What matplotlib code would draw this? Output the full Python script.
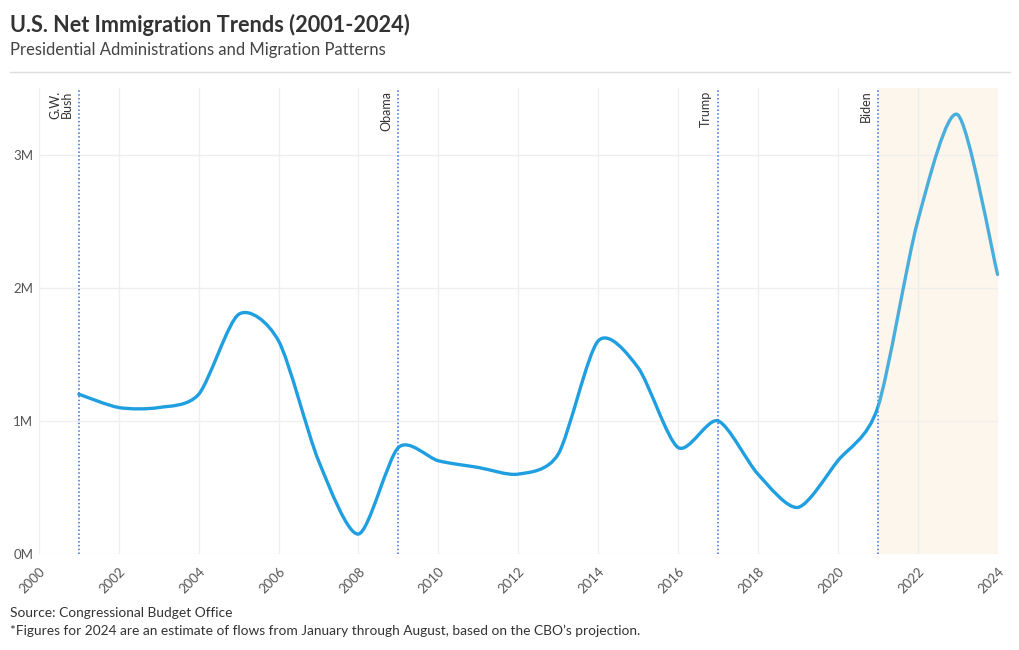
import numpy as np
import matplotlib
matplotlib.use("Agg")
import matplotlib.pyplot as plt
from matplotlib.path import Path
from matplotlib.patches import PathPatch

plt.rcParams['font.family'] = ['Lato', 'DejaVu Sans']

# data (millions)
years = [2001, 2002, 2003, 2004, 2005, 2006, 2007, 2008, 2009, 2010, 2011, 2012,
         2013, 2014, 2015, 2016, 2017, 2018, 2019, 2020, 2021, 2022, 2023, 2024]
net_migration = [1.2, 1.1, 1.1, 1.2, 1.8, 1.6, 0.7, 0.15, 0.8, 0.7, 0.65, 0.6,
                 0.75, 1.6, 1.4, 0.8, 1.0, 0.6, 0.35, 0.7, 1.1, 2.5, 3.3, 2.1]
presidents = ['G.W.\nBush', 'Obama', 'Trump', 'Biden']
term_start = [2001, 2009, 2017, 2021]
estimate_start = 2021


def spline_path(xs, ys, tension=0.4):
    # catmull-rom style smooth path through the points (cubic bezier segments)
    xs = np.asarray(xs, float)
    ys = np.asarray(ys, float) * 1e6
    verts = [(xs[0], ys[0])]
    codes = [Path.MOVETO]
    n = len(xs)
    for i in range(n - 1):
        p0 = (xs[max(i - 1, 0)], ys[max(i - 1, 0)])
        p1 = (xs[i], ys[i])
        p2 = (xs[i + 1], ys[i + 1])
        p3 = (xs[min(i + 2, n - 1)], ys[min(i + 2, n - 1)])
        c1 = (p1[0] + (p2[0] - p0[0]) * tension / 3, p1[1] + (p2[1] - p0[1]) * tension / 3)
        c2 = (p2[0] - (p3[0] - p1[0]) * tension / 3, p2[1] - (p3[1] - p1[1]) * tension / 3)
        verts += [c1, c2, p2]
        codes += [Path.CURVE4] * 3
    return Path(verts, codes)


fig = plt.figure(figsize=(10.2, 6.5), dpi=100)
ax = fig.add_axes([0.0382, 0.1477, 0.9398, 0.7169])

ax.axvspan(estimate_start, 2024, color='#fdf6ec', zorder=0, lw=0)

path = spline_path(years, net_migration)
solid = PathPatch(path, fill=False, edgecolor='#1f9fe0', lw=2.4, zorder=3, capstyle='round')
ax.add_patch(solid)
solid.set_clip_path(plt.Rectangle((1990, -1e7), estimate_start - 1990, 1e8,
                                  transform=ax.transData))
est = PathPatch(path, fill=False, edgecolor='#4aaedc', lw=2.4, zorder=3, capstyle='round')
ax.add_patch(est)
est.set_clip_path(plt.Rectangle((estimate_start, -1e7), 20, 1e8, transform=ax.transData))

for name, yr in zip(presidents, term_start):
    ax.axvline(yr, color='#3a6fd8', lw=1.1, ls=(0, (1, 1.5)), zorder=2)
    ax.text(yr - 0.15, 3.48e6, name, rotation=90, ha='right', va='top',
            fontsize=9, color='#333333', linespacing=1.0, multialignment='right')

ax.set_xlim(2000, 2024)
ax.set_ylim(0, 3.5e6)
ax.set_xticks(range(2000, 2025, 2))
ax.set_yticks([0, 1e6, 2e6, 3e6])
ax.set_yticklabels(['0M', '1M', '2M', '3M'])
plt.setp(ax.get_xticklabels(), rotation=45, ha='right', rotation_mode='anchor')
ax.tick_params(length=0, labelsize=9.5, labelcolor='#555555', pad=4)
ax.tick_params(axis='x', pad=8)
ax.grid(True, color='#eeeeee', lw=0.9, zorder=0)
ax.set_axisbelow(True)
for s in ax.spines.values():
    s.set_visible(False)

fig.text(10 / 1020, 1 - 25 / 650, 'U.S. Net Immigration Trends (2001-2024)',
         fontsize=15.6, fontweight='bold', color='#333333', va='center')
fig.text(10 / 1020, 1 - 50 / 650, 'Presidential Administrations and Migration Patterns',
         fontsize=12, color='#444444', va='center')
fig.add_artist(plt.Line2D([10 / 1020, 1010 / 1020], [1 - 72 / 650] * 2,
                          color='#dddddd', lw=1))
fig.text(10 / 1020, 1 - 613 / 650, 'Source: Congressional Budget Office',
         fontsize=9.9, color='#333333', va='center')
fig.text(10 / 1020, 1 - 631 / 650,
         '*Figures for 2024 are an estimate of flows from January through August, based on the CBO\u2019s projection.',
         fontsize=9.9, color='#333333', va='center')

fig.savefig('out.png', dpi=100)
